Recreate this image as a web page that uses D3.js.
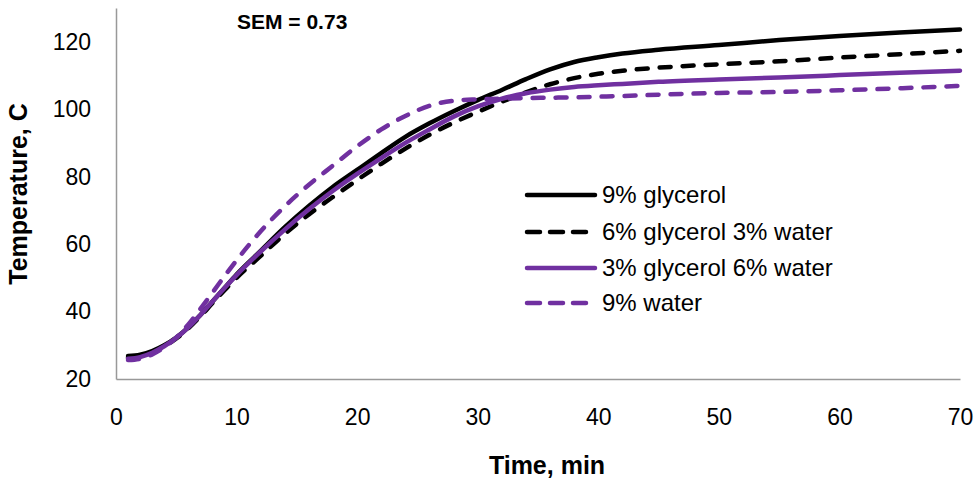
<!DOCTYPE html>
<html>
<head>
<meta charset="utf-8">
<script src="https://cdn.jsdelivr.net/npm/d3@7"></script>
<style>
  html, body { margin: 0; padding: 0; background: #fff; }
  text { font-family: "Liberation Sans", Arial, sans-serif; }
</style>
</head>
<body>
<svg id="chart" width="976" height="481"></svg>
<script>
const time = [1,2,3,4,5,6,7,8,9,10,12,14,16,18,20,22,24,26,28,30,32,34,36,38,40,42,45,50,55,60,65,70];
const glycerol9 = [26.8,27.2,28.3,30,32.3,35.3,39,43,47,51,58,65,71.3,77,82,87,91.8,95.8,99.4,102.7,105.7,108.9,111.8,114,115.4,116.5,117.6,119,120.5,121.7,122.7,123.6];
const glycerol6water3 = [26.3,26.8,28,29.7,32,35,38.6,42.5,46.3,50,56.5,63,68.8,74,79,83.8,88.3,92.4,96,99.2,102.2,105,107.4,109.2,110.5,111.4,112.3,113.3,114.2,115.3,116.3,117.3];
const glycerol3water6 = [26,26.5,27.8,29.7,32.2,35.3,39,43,47,50.8,57.8,64.3,70.3,75.8,80.8,85.5,90,94,97.8,100.8,103.1,104.7,105.8,106.6,107.1,107.5,108.1,108.8,109.4,110.1,110.8,111.4];
const water9 = [25.6,26,27.3,29.4,32.3,36.2,40.8,45.6,50.5,55.2,63.8,71.2,77.6,83.3,89,94,98,101,102.5,102.9,103.1,103.3,103.4,103.5,103.7,103.9,104.3,104.8,105.1,105.6,106.2,106.9];
const seriesNames = ["9% glycerol","6% glycerol 3% water","3% glycerol 6% water","9% water"];
const xTicks = [0,10,20,30,40,50,60,70];
const yTicks = [20,40,60,80,100,120];
const xTitle = "Time, min";
const yTitle = "Temperature, C";
const note = "SEM = 0.73";

const series = [
  {name: seriesNames[0], values: glycerol9, color: "#000000", dash: null},
  {name: seriesNames[1], values: glycerol6water3, color: "#000000", dash: "11,12"},
  {name: seriesNames[2], values: glycerol3water6, color: "#7030A0", dash: null},
  {name: seriesNames[3], values: water9, color: "#7030A0", dash: "11,12"}
];

const svg = d3.select("#chart");
const x = d3.scaleLinear().domain([0,70]).range([116,960]);
const y = d3.scaleLinear().domain([20,130]).range([379,8]);

// axes
const xAxis = svg.append("g").attr("transform", `translate(0,${y(20)})`)
  .call(d3.axisBottom(x).tickValues(xTicks).tickSize(0).tickFormat(d3.format("d")));
const yAxis = svg.append("g").attr("transform", `translate(${x(0)},0)`)
  .call(d3.axisLeft(y).tickValues(yTicks).tickSize(0).tickPadding(25).tickFormat(d3.format("d")));
[xAxis, yAxis].forEach(g => {
  g.select(".domain").attr("stroke", "#999").attr("stroke-width", 1.5);
  g.selectAll("text").attr("font-size", 23).attr("fill", "#000")
    .attr("font-family", "'Liberation Sans', Arial, sans-serif");
});
xAxis.selectAll("text").attr("dy", "0.35em").attr("y", 38);

// lines
const line = d3.line().x((d,i) => x(time[i])).y(d => y(d)).curve(d3.curveMonotoneX);
svg.append("g").selectAll("path").data(series).join("path")
  .attr("d", d => line(d.values))
  .attr("fill", "none")
  .attr("stroke", d => d.color)
  .attr("stroke-width", 4.5)
  .attr("stroke-linecap", "round")
  .attr("stroke-linejoin", "round")
  .attr("stroke-dasharray", d => d.dash);

// legend
const legendRows = [195, 232, 268, 303];
const lg = svg.append("g");
series.forEach((s, i) => {
  lg.append("line")
    .attr("x1", 527).attr("x2", 595)
    .attr("y1", legendRows[i]).attr("y2", legendRows[i])
    .attr("stroke", s.color).attr("stroke-width", 4.5)
    .attr("stroke-linecap", "round")
    .attr("stroke-dasharray", s.dash ? "13,10" : null);
  lg.append("text").attr("x", 602).attr("y", legendRows[i]).attr("dy", "0.35em")
    .attr("font-size", 24).attr("fill", "#000").text(s.name);
});

// titles
svg.append("text").attr("x", 547).attr("y", 465).attr("dy", "0.35em")
  .attr("text-anchor", "middle").attr("font-size", 25).attr("font-weight", "bold").text(xTitle);
svg.append("text").attr("transform", "translate(18,194) rotate(-90)").attr("dy", "0.35em")
  .attr("text-anchor", "middle").attr("font-size", 25).attr("font-weight", "bold").text(yTitle);
svg.append("text").attr("x", 237).attr("y", 22).attr("dy", "0.35em")
  .attr("font-size", 21).attr("font-weight", "bold").text(note);
</script>
</body>
</html>
